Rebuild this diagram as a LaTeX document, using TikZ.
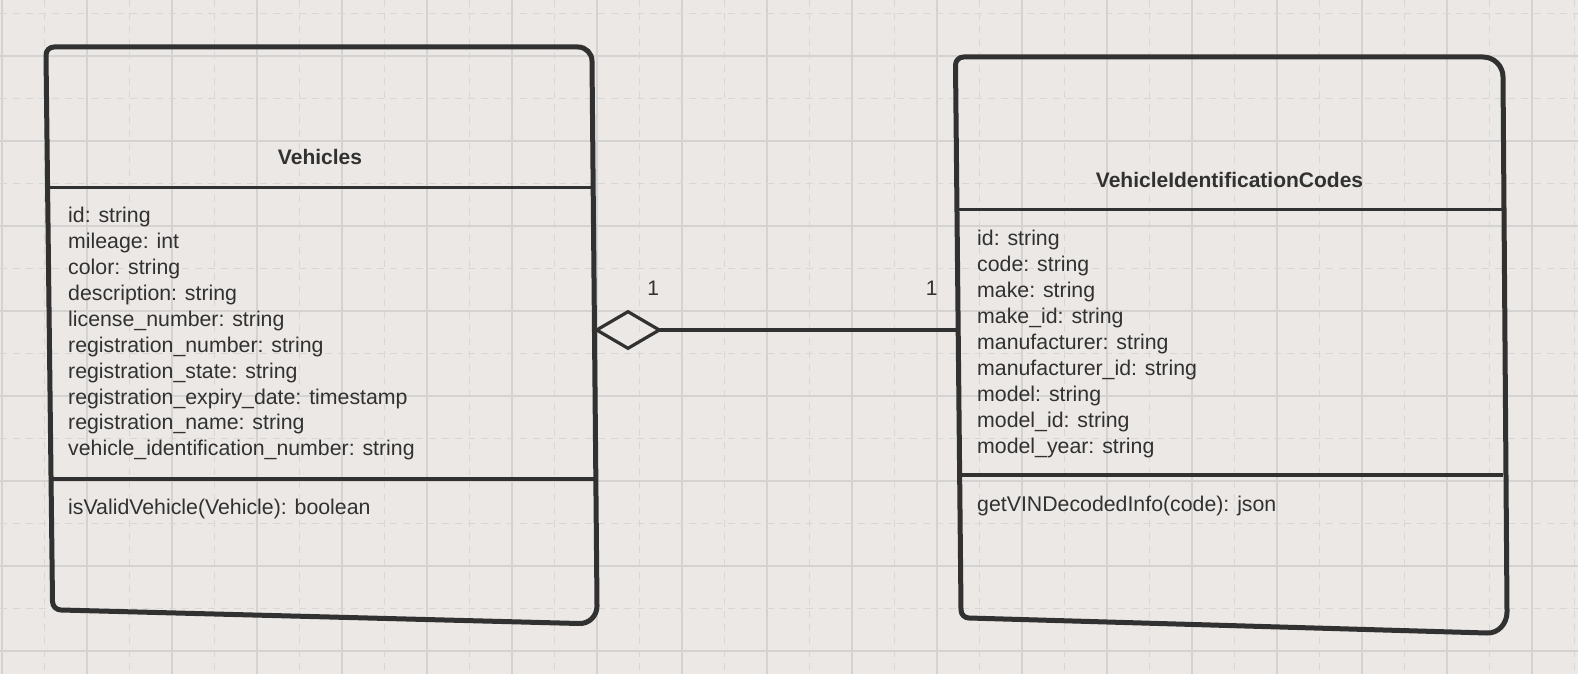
\documentclass[tikz,border=0pt]{standalone}
\usepackage{fontspec}
\setmainfont{Liberation Sans}
\usetikzlibrary{shapes.geometric}
\definecolor{bg}{HTML}{EBE8E5}
\definecolor{gridsolidc}{HTML}{D5D3D1}
\definecolor{griddashc}{HTML}{D9D7D5}
\definecolor{ink}{HTML}{313131}
\begin{document}
\begin{tikzpicture}[x=1pt,y=-1pt,
  gridsolid/.style={draw=gridsolidc, line width=1.3pt},
  griddash/.style={draw=griddashc, line width=1pt, dash pattern=on 7pt off 6pt},
  boxline/.style={draw=ink, line width=5pt, line join=round},
  sepline/.style={draw=ink, line width=3.2pt},
  attr/.style={anchor=base west, inner sep=0pt, text=ink, font=\fontsize{21.3}{26}\selectfont},
  classtitle/.style={anchor=base, inner sep=0pt, text=ink, font=\fontsize{21}{26}\selectfont\bfseries},
  mult/.style={anchor=base, inner sep=0pt, text=ink, font=\fontsize{21}{26}\selectfont},
  aggdiamond/.style={diamond, draw=ink, line width=3.2pt, minimum width=62.6pt, minimum height=36.6pt, inner sep=0pt, outer sep=0pt},
  assoc/.style={draw=ink, line width=3.2pt},
  classarea/.style={inner sep=0pt, outer sep=0pt}
]
\useasboundingbox (0,0) rectangle (1578,674);
\fill[bg] (0,0) rectangle (1578,674);
% grid
\foreach \k in {0,...,18} {
  \draw[gridsolid] ({2+85*\k},0) -- ({2+85*\k},674);
  \draw[griddash] ({44.5+85*\k},0) -- ({44.5+85*\k},674);
}
\foreach \k in {0,...,7} {
  \draw[gridsolid] (0,{56+85*\k}) -- (1578,{56+85*\k});
  \draw[griddash] (0,{13.5+85*\k}) -- (1578,{13.5+85*\k});
}
% class areas (for connector anchoring)
\node[classarea, minimum width=550pt, minimum height=576pt] (vehicles) at (321,335) {};
\node[classarea, minimum width=549pt, minimum height=576pt] (vic) at (1230.5,345) {};
% left box outline
\draw[boxline] (46,55) .. controls (46,50.6) and (49.6,47) .. (54,47)
  -- (578,47) .. controls (585.7,47) and (592,53.3) .. (592,61)
  -- (597,606) .. controls (597,616) and (589,624) .. (579,623.5)
  -- (61,610) .. controls (56.3,610) and (52.5,606.2) .. (52.5,601.5) -- cycle;
\draw[sepline] (47,187.7) -- (593,187.7);
\draw[sepline] (50,479) -- (595,479);
% right box outline
\draw[boxline] (955.5,65) .. controls (955.5,60.6) and (959.1,57) .. (963.5,57)
  -- (1483,57) .. controls (1494,57) and (1503,66) .. (1503,77)
  -- (1507,612) .. controls (1507,624) and (1498,633.5) .. (1487,633)
  -- (969,618) .. controls (964.6,618) and (961,614.4) .. (961,610) -- cycle;
\draw[sepline] (957,209.5) -- (1503,209.5);
\draw[sepline] (959,475) -- (1503,475);
% titles
\node[classtitle] (vtitle) at (320,164) {Vehicles};
\node[classtitle] (ctitle) at (1229.5,187) {VehicleIdentificationCodes};
% left attributes
\foreach \t [count=\i] in {id: string, mileage: int, color: string, description: string,
  license\_number: string, registration\_number: string, registration\_state: string,
  registration\_expiry\_date: timestamp, registration\_name: string,
  vehicle\_identification\_number: string} {
  \node[attr] (va\i) at (68,{222.7+25.9*(\i-1)}) {\t};
}
\node[attr] (vm1) at (68,514.3) {isValidVehicle(Vehicle): boolean};
% right attributes
\foreach \t [count=\i] in {id: string, code: string, make: string, make\_id: string,
  manufacturer: string, manufacturer\_id: string, model: string, model\_id: string,
  model\_year: string} {
  \node[attr] (ca\i) at (977,{245+26*(\i-1)}) {\t};
}
\node[attr] (cm1) at (977,511) {getVINDecodedInfo(code): json};
% aggregation connector
\node[aggdiamond] (agg) at (628,330) {};
\draw[assoc] (agg.east) -- (agg.east -| vic.west);
\node[mult] (m1) at (653.3,295.7) {1};
\node[mult] (m2) at (931.7,295.7) {1};
\end{tikzpicture}
\end{document}
